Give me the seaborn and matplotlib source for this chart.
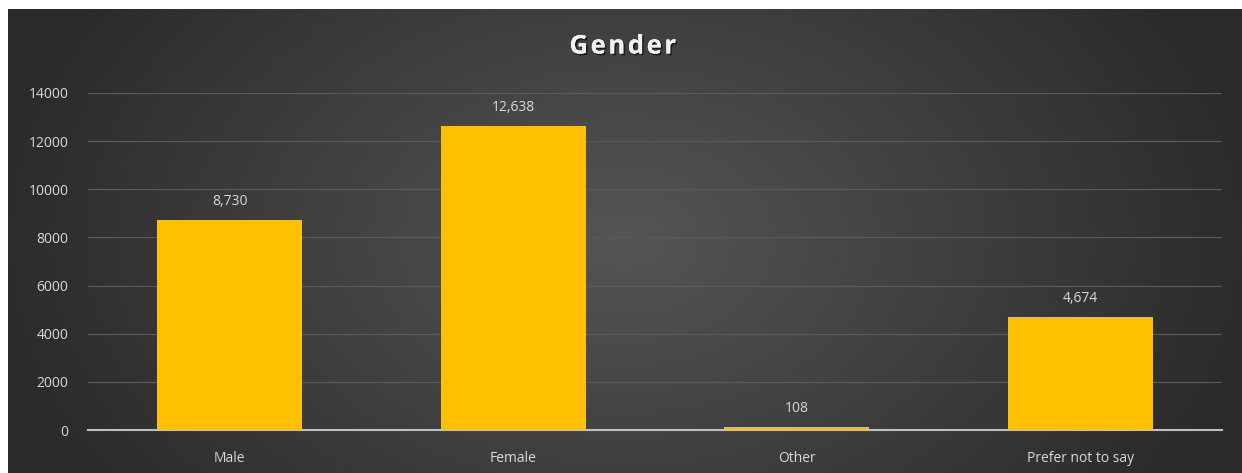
import numpy as np
import pandas as pd
import matplotlib
matplotlib.use("Agg")
import matplotlib.pyplot as plt
import matplotlib.patheffects as pe
import seaborn as sns

categories = ["Male", "Female", "Other", "Prefer not to say"]
counts = [8730, 12638, 108, 4674]
yticks = [0, 2000, 4000, 6000, 8000, 10000, 12000, 14000]
title = "Gender"

sns.set_theme(style="white")
plt.rcParams["font.family"] = ["Open Sans", "DejaVu Sans"]

W, H = 1242, 473
fig = plt.figure(figsize=(W / 100, H / 100), dpi=100, facecolor="white")

# background radial gradient panel
bg = fig.add_axes([8 / W, 0, (W - 8) / W, (H - 9) / H])
bg.set_axis_off()
nx, ny = 400, 160
xx, yy = np.meshgrid(np.linspace(-1, 1, nx), np.linspace(-1, 1, ny))
r = np.sqrt(xx ** 2 + (yy * 0.55) ** 2)
r = np.clip(r / 1.05, 0, 1)
inner = np.array([0x55, 0x55, 0x55]) / 255
outer = np.array([0x2a, 0x2a, 0x2a]) / 255
img = inner[None, None, :] * (1 - r[..., None]) + outer[None, None, :] * r[..., None]
bg.imshow(img, aspect="auto", extent=[0, 1, 0, 1], interpolation="bilinear")
bg.set_xlim(0, 1)
bg.set_ylim(0, 1)

ax = fig.add_axes([88 / W, (H - 430) / H, (1222 - 88) / W, (430 - 93) / H])
ax.patch.set_alpha(0)
df = pd.DataFrame({"category": categories, "count": counts})
sns.barplot(data=df, x="category", y="count", color="#FFC000", saturation=1,
            width=0.51, ax=ax, zorder=3, linewidth=0, edgecolor="none")
ax.set_xlim(-0.5, 3.5)
ax.set_ylim(0, 14000)
ax.set_yticks(yticks)
ax.set_yticklabels([str(v) for v in yticks])
ax.set_xlabel("")
ax.set_ylabel("")
for s in ["top", "right", "left"]:
    ax.spines[s].set_visible(False)
ax.spines["bottom"].set_color("#bfbfbf")
ax.spines["bottom"].set_linewidth(1.5)
ax.spines["bottom"].set_zorder(4)
ax.yaxis.grid(True, color="#5a5a5a", linewidth=0.9, zorder=0)
ax.set_axisbelow(True)
ax.tick_params(axis="both", length=0, colors="#d9d9d9", labelsize=10)
ax.tick_params(axis="y", pad=14)
ax.tick_params(axis="x", pad=15)

for c in ax.containers:
    ax.bar_label(c, labels=[f"{v:,.0f}" for v in counts], padding=8,
                 color="#d9d9d9", fontsize=10)

fig.text(623 / W, (H - 46) / H, "\u200a".join(title),
         ha="center", va="center", fontsize=18.5, fontweight="bold", color="#f2f2f2",
         path_effects=[pe.withSimplePatchShadow(offset=(1.2, -1.2), shadow_rgbFace="black", alpha=0.6),
                       pe.Normal()])

fig.savefig("out.png", dpi=100, facecolor="white")
